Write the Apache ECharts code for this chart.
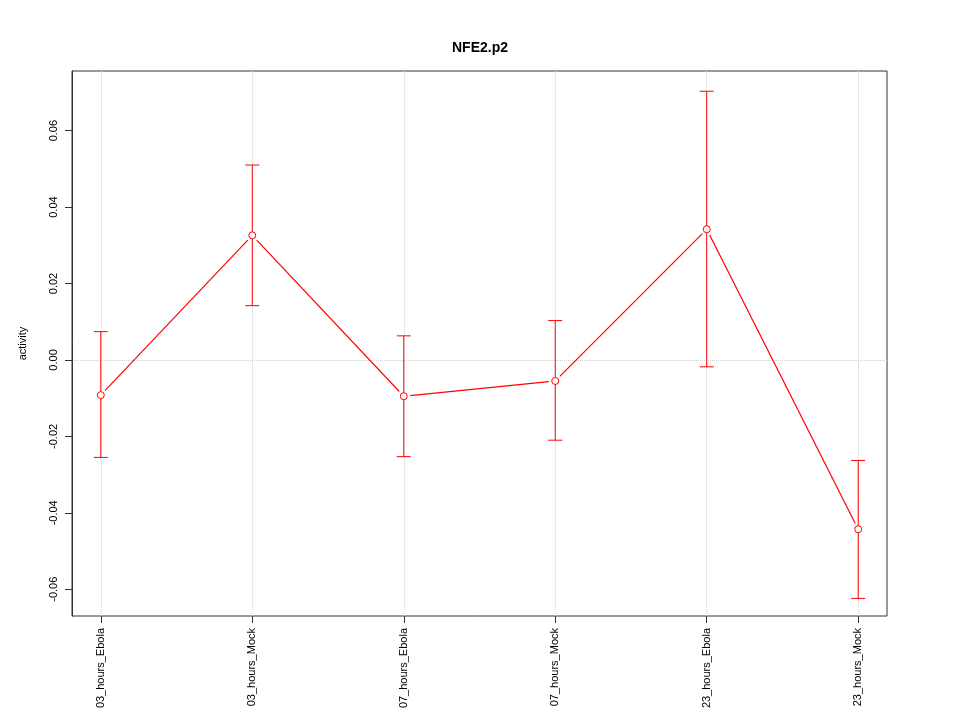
<!DOCTYPE html>
<html>
<head>
<meta charset="utf-8">
<script src="https://cdn.jsdelivr.net/npm/echarts@6/dist/echarts.min.js"></script>
<style>
  html, body { margin: 0; padding: 0; background: #fff; }
  #chart { width: 960px; height: 720px; }
</style>
</head>
<body>
<div id="chart"></div>
<script>
  var categories = ['03_hours_Ebola', '03_hours_Mock', '07_hours_Ebola', '07_hours_Mock', '23_hours_Ebola', '23_hours_Mock'];
  var means = [-0.0092, 0.0326, -0.0095, -0.0055, 0.0342, -0.0443];
  var upper = [0.0074, 0.0510, 0.0063, 0.0103, 0.0703, -0.0263];
  var lower = [-0.0255, 0.0142, -0.0253, -0.0210, -0.0018, -0.0624];
  var yTicks = [-0.06, -0.04, -0.02, 0.00, 0.02, 0.04, 0.06];

  var xIdx = categories.map(function (c, i) { return i; });
  var font = 'Liberation Sans, Arial, sans-serif';
  var red = '#ff0000';

  var chart = echarts.init(document.getElementById('chart'));

  var barData = xIdx.map(function (i) { return [i, lower[i], upper[i]]; });
  var segData = [];
  for (var i = 0; i < means.length - 1; i++) {
    segData.push([i, means[i], i + 1, means[i + 1]]);
  }
  var pointData = xIdx.map(function (i) { return [i, means[i]]; });

  var option = {
    animation: false,
    title: {
      text: 'NFE2.p2',
      left: 'center',
      top: 36,
      textStyle: { fontFamily: font, fontSize: 14, fontWeight: 'bold', color: '#000' }
    },
    grid: {
      left: 72, right: 73, top: 71, bottom: 104,
      show: true, borderColor: '#333', borderWidth: 1, backgroundColor: 'transparent'
    },
    xAxis: {
      type: 'value',
      min: -0.19,
      max: 5.19,
      splitLine: { show: false },
      axisLine: { show: false, onZero: false },
      axisTick: { show: true, length: 7, customValues: xIdx, lineStyle: { color: '#333' } },
      axisLabel: {
        customValues: xIdx,
        rotate: 90,
        margin: 12,
        fontFamily: font,
        fontSize: 11,
        color: '#000',
        formatter: function (v) { return categories[Math.round(v)]; }
      }
    },
    yAxis: {
      type: 'value',
      min: -0.067,
      max: 0.0756,
      name: 'activity',
      nameLocation: 'middle',
      nameGap: 44,
      nameRotate: 90,
      nameTextStyle: { fontFamily: font, fontSize: 11, color: '#000' },
      splitLine: { show: false },
      axisLine: { show: true, onZero: false, lineStyle: { color: '#333' } },
      axisTick: { show: true, length: 7, customValues: yTicks, lineStyle: { color: '#333' } },
      axisLabel: {
        customValues: yTicks,
        rotate: 90,
        margin: 13,
        fontFamily: font,
        fontSize: 11,
        color: '#000',
        formatter: function (v) { return v.toFixed(2); }
      }
    },
    series: [
      {
        type: 'line',
        data: [],
        silent: true,
        z: 0,
        markLine: {
          silent: true,
          z: 0,
          symbol: 'none',
          label: { show: false },
          lineStyle: { color: '#cfcfcf', type: 'dotted', width: 1 },
          data: xIdx.map(function (i) { return { xAxis: i }; }).concat([{ yAxis: 0 }])
        }
      },
      {
        // error bars
        type: 'custom',
        silent: true,
        z: 4,
        data: barData,
        renderItem: function (params, api) {
          var top = api.coord([api.value(0), api.value(2)]);
          var bot = api.coord([api.value(0), api.value(1)]);
          var w = 7;
          var style = { stroke: red, fill: null, lineWidth: 1 };
          return {
            type: 'group',
            children: [
              { type: 'line', shape: { x1: top[0], y1: top[1], x2: bot[0], y2: bot[1] }, style: style },
              { type: 'line', shape: { x1: top[0] - w, y1: top[1], x2: top[0] + w, y2: top[1] }, style: style },
              { type: 'line', shape: { x1: bot[0] - w, y1: bot[1], x2: bot[0] + w, y2: bot[1] }, style: style }
            ]
          };
        }
      },
      {
        // connecting segments that stop short of each point (R type="b")
        type: 'custom',
        silent: true,
        z: 4,
        data: segData,
        renderItem: function (params, api) {
          var a = api.coord([api.value(0), api.value(1)]);
          var b = api.coord([api.value(2), api.value(3)]);
          var dx = b[0] - a[0], dy = b[1] - a[1];
          var len = Math.sqrt(dx * dx + dy * dy);
          var gap = 6.5;
          var ux = dx / len, uy = dy / len;
          return {
            type: 'line',
            shape: { x1: a[0] + ux * gap, y1: a[1] + uy * gap, x2: b[0] - ux * gap, y2: b[1] - uy * gap },
            style: { stroke: red, fill: null, lineWidth: 1.2 }
          };
        }
      },
      {
        type: 'scatter',
        silent: true,
        z: 6,
        data: pointData,
        symbol: 'circle',
        symbolSize: 7,
        itemStyle: { color: '#fff', borderColor: red, borderWidth: 1, opacity: 1 }
      }
    ]
  };

  chart.setOption(option);
</script>
</body>
</html>
